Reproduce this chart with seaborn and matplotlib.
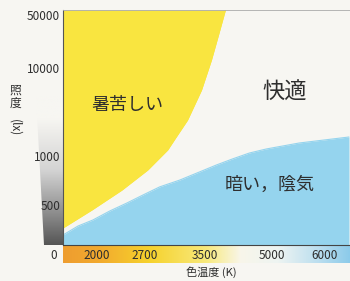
import numpy as np
import matplotlib
matplotlib.use("Agg")
import matplotlib.pyplot as plt
from matplotlib.colors import LinearSegmentedColormap
from matplotlib.patches import Polygon
import seaborn as sns

# data (colour temperature in K, illuminance in lx)
warm_temp = [1500, 1926, 2365, 2740, 3007, 3113, 3273, 3460, 3654, 3809, 3963]
warm_lux = [362, 466, 617, 820, 1170, 1603, 2560, 5620, 12760, 27200, 58000]
dim_temp = [1500, 1721, 1941, 2190, 2438, 2671, 2900, 3167, 3433, 3765,
            4118, 4493, 4868, 5519, 6000, 6480]
dim_lux = [328, 372, 405, 460, 514, 575, 646, 711, 798, 881,
           959, 1081, 1202, 1405, 1520, 1644]
x_ticks = [2000, 2700, 3500, 5000, 6000]
y_ticks = [500, 1000, 10000, 50000]
zone_labels = ["暑苦しい", "快適", "暗い，陰気"]

# the printed axes are neither linear nor log, so map them piecewise
XK = [1500, 2000, 2700, 3500, 5000, 6000, 6500]
XP = [0, 34, 82, 142, 210, 262, 288]
YK = np.log10([285, 500, 1000, 10000, 50000, 58000])
YP = [0, 40, 89, 177, 230, 235]


def fx(v):
    return np.interp(v, XK, XP)


def fx_inv(p):
    return np.interp(p, XP, XK)


def fy(v):
    return np.interp(np.log10(np.clip(v, 1, None)), YK, YP)


def fy_inv(p):
    return 10 ** np.interp(p, YP, YK)


sns.set_theme(style="white")
plt.rcParams["font.family"] = ["Noto Sans CJK JP", "DejaVu Sans"]
bg = "#f7f6f2"
txt = "#2e2e2e"

fig = plt.figure(figsize=(3.5, 2.81), dpi=100, facecolor=bg)

# colour temperature bar under the x axis
bar = fig.add_axes([0.18, 0.064, 0.82, 0.064])
bar_cmap = LinearSegmentedColormap.from_list(
    "ct", [(0, "#ee9d30"), (0.12, "#f2a92e"), (0.3, "#f6d22c"),
           (0.5, "#f8e97c"), (0.62, "#f8f6ea"), (0.75, "#eef4f2"),
           (0.9, "#b8ddef"), (1, "#8ccbea")])
bar.imshow(np.linspace(0, 1, 256)[None, :], aspect="auto", cmap=bar_cmap,
           extent=[0, 1, 0, 1])
bar.axis("off")

# grey illuminance wedge beside the y axis
wedge = fig.add_axes([0.103, 0.1281, 0.077, 0.53])
grey = LinearSegmentedColormap.from_list(
    "g", [(0, bg), (0.15, bg), (0.5, "#d3d3d3"), (0.8, "#8a8a8a"),
          (1, "#555555")])
im = wedge.imshow(np.linspace(0, 1, 256)[:, None], aspect="auto", cmap=grey,
                  extent=[0, 1, 0, 1])
clip = Polygon([(0, 1), (1, 1), (1, 0), (0.3, 0)], transform=wedge.transData)
im.set_clip_path(clip)
wedge.axis("off")

ax = fig.add_axes([0.18, 0.1281, 0.82, 0.8363])
ax.set_facecolor(bg)
ax.set_xscale("function", functions=(fx, fx_inv))
ax.set_yscale("function", functions=(fy, fy_inv))
ax.set_xlim(1500, 6500)
ax.set_ylim(285, 58000)

yellow = "#f9e540"
blue = "#95d4ee"
ax.fill_betweenx(warm_lux, 1500, warm_temp, color=yellow, lw=0)
ax.fill_between(dim_temp, 285, dim_lux, color=blue, lw=0)
sns.lineplot(x=warm_temp, y=warm_lux, ax=ax, color=yellow, lw=0.8, sort=False)
sns.lineplot(x=dim_temp, y=dim_lux, ax=ax, color=blue, lw=0.8)

ax.text(0.223, 0.596, zone_labels[0], transform=ax.transAxes, fontsize=13,
        ha="center", va="center", color=txt)
ax.text(0.774, 0.651, zone_labels[1], transform=ax.transAxes, fontsize=16,
        ha="center", va="center", color=txt)
ax.text(0.721, 0.255, zone_labels[2], transform=ax.transAxes, fontsize=13,
        ha="center", va="center", color=txt)

ax.set_xticks(x_ticks)
ax.set_xticklabels([str(t) for t in x_ticks])
ax.set_yticks(y_ticks)
ax.set_yticklabels([str(t) for t in y_ticks])
ax.minorticks_off()
ax.tick_params(axis="x", direction="in", length=10, width=0.6,
               color="#7cb9d8", pad=3, labelsize=8.5, labelcolor=txt)
ax.tick_params(axis="y", direction="in", length=5, width=0.5,
               color="#e0cf40", pad=2, labelsize=8.5, labelcolor=txt)
ax.set_xlabel("")
ax.set_ylabel("")

ax.spines["right"].set_visible(False)
ax.spines["left"].set_color("#555555")
ax.spines["left"].set_linewidth(0.8)
ax.spines["bottom"].set_color("#444444")
ax.spines["bottom"].set_linewidth(0.8)
ax.spines["top"].set_color("#aaaaaa")
ax.spines["top"].set_linewidth(0.6)
ax.spines["top"].set_linestyle((0, (2, 1)))

ax.text(-0.02, -0.043, "0", transform=ax.transAxes, fontsize=8.5,
        ha="right", va="center", color=txt)

fig.text(0.603, 0.03, "色温度 (K)", fontsize=8, ha="center", va="center",
         color=txt)
fig.text(0.043, 0.680, "照", fontsize=8.5, ha="center", va="center", color=txt)
fig.text(0.043, 0.632, "度", fontsize=8.5, ha="center", va="center", color=txt)
fig.text(0.043, 0.545, "(lx)", fontsize=8.5, ha="center", va="center",
         rotation=-90, color=txt)

fig.savefig("out.png", dpi=100, facecolor=bg)
